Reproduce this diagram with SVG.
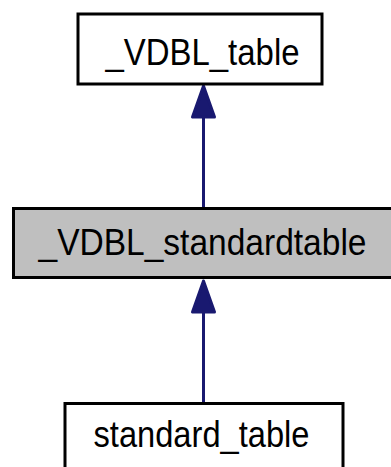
<svg xmlns="http://www.w3.org/2000/svg" width="391" height="467" viewBox="0 0 391 467">
<style>
.box{fill:#ffffff;stroke:#000000;stroke-width:3}
.cur{fill:#bfbfbf}
.lbl{font-family:"Liberation Sans",Arial,sans-serif;font-size:37px;text-anchor:middle;fill:#000}
.edge{stroke:#191970;stroke-width:3;fill:none}
.head{fill:#191970;stroke:#191970;stroke-width:3;stroke-linejoin:round}
</style>
<rect width="391" height="467" fill="#ffffff"/>
<g id="connectors">
<line class="edge" x1="203.5" y1="208" x2="203.5" y2="116"/>
<polygon class="head" points="203.5,86 192.5,117 214.5,117"/>
<line class="edge" x1="203.5" y1="403" x2="203.5" y2="311"/>
<polygon class="head" points="203.5,281 192.5,312 214.5,312"/>
</g>
<g id="node_VDBL_table">
<rect class="box" x="78" y="14" width="244" height="70"/>
<text class="lbl" x="202.5" y="64.5" textLength="194" lengthAdjust="spacingAndGlyphs">_VDBL_table</text>
</g>
<g id="node_VDBL_standardtable">
<rect class="box cur" x="13.5" y="208.5" width="380" height="69"/>
<text class="lbl" x="202.5" y="254.5" textLength="328" lengthAdjust="spacingAndGlyphs">_VDBL_standardtable</text>
</g>
<g id="node_standard_table">
<rect class="box" x="65" y="403.5" width="278" height="70"/>
<text class="lbl" x="201.5" y="446.5" textLength="216" lengthAdjust="spacingAndGlyphs">standard_table</text>
</g>
</svg>
